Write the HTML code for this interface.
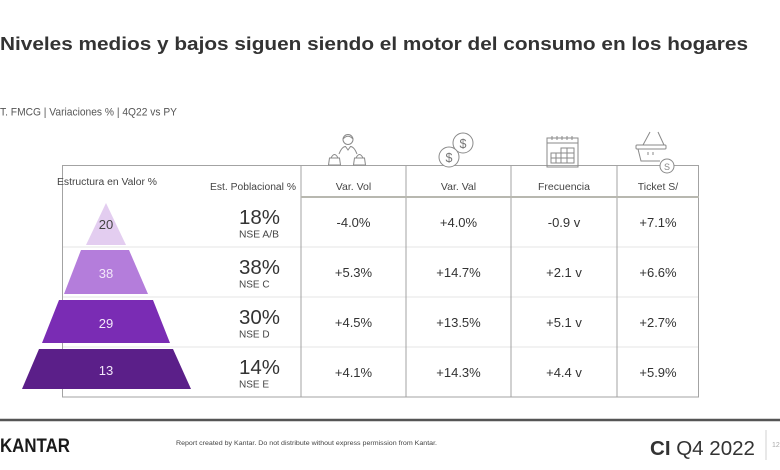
<!DOCTYPE html>
<html>
<head>
<meta charset="utf-8">
<style>
html,body{margin:0;padding:0;background:#fff;}
svg{display:block;}
text{font-family:"Liberation Sans",Arial,sans-serif;}
</style>
</head>
<body>
<svg width="780" height="470" viewBox="0 0 780 470" xmlns="http://www.w3.org/2000/svg">
  <rect x="0" y="0" width="780" height="470" fill="#ffffff"/>

  <!-- Title -->
  <text x="0" y="50" font-size="18.5" font-weight="bold" fill="#333" textLength="748" lengthAdjust="spacingAndGlyphs">Niveles medios y bajos siguen siendo el motor del consumo en los hogares</text>
  <text x="0" y="115.5" font-size="11" fill="#555" textLength="177" lengthAdjust="spacingAndGlyphs">T. FMCG | Variaciones % | 4Q22 vs PY</text>

  <!-- Row separators (light) -->
  <g stroke="#e4e4e4" stroke-width="1">
    <line x1="62" y1="247" x2="699" y2="247"/>
    <line x1="62" y1="297" x2="699" y2="297"/>
    <line x1="62" y1="347" x2="699" y2="347"/>
  </g>

  <!-- Outer box & vertical lines -->
  <g stroke="#a3a3a3" stroke-width="1" fill="none">
    <rect x="62.5" y="165.5" width="636" height="231.5"/>
    <line x1="301" y1="165" x2="301" y2="397"/>
    <line x1="406" y1="165" x2="406" y2="397"/>
    <line x1="511" y1="165" x2="511" y2="397"/>
    <line x1="617" y1="165" x2="617" y2="397"/>
  </g>
  <!-- Header separator -->
  <line x1="301" y1="197" x2="699" y2="197" stroke="#b8b8b0" stroke-width="2"/>

  <!-- Pyramid -->
  <polygon points="106,203 86,245 126,245" fill="#e3cdf0"/>
  <polygon points="81,250 129,250 148,294 64,294" fill="#b47ddb"/>
  <polygon points="59,300 153,300 170,343 42,343" fill="#7a2cb4"/>
  <polygon points="39,349 173,349 191,389 22,389" fill="#5b1f89"/>
  <text x="106" y="229" font-size="13" fill="#444" text-anchor="middle">20</text>
  <text x="106" y="278" font-size="13" fill="#f3e8fa" text-anchor="middle">38</text>
  <text x="106" y="328" font-size="13" fill="#f3e8fa" text-anchor="middle">29</text>
  <text x="106" y="375" font-size="13" fill="#f3e8fa" text-anchor="middle">13</text>

  <!-- Left headers -->
  <text x="57" y="185" font-size="10" fill="#444" textLength="100" lengthAdjust="spacingAndGlyphs">Estructura  en Valor %</text>
  <text x="210" y="190" font-size="10" fill="#444" textLength="86" lengthAdjust="spacingAndGlyphs">Est. Poblacional %</text>

  <!-- Population % -->
  <g font-size="20" fill="#333">
    <text x="239" y="224" textLength="41" lengthAdjust="spacingAndGlyphs">18%</text>
    <text x="239" y="274" textLength="41" lengthAdjust="spacingAndGlyphs">38%</text>
    <text x="239" y="324" textLength="41" lengthAdjust="spacingAndGlyphs">30%</text>
    <text x="239" y="374" textLength="41" lengthAdjust="spacingAndGlyphs">14%</text>
  </g>
  <g font-size="10" fill="#444">
    <text x="239" y="237.5" textLength="40" lengthAdjust="spacingAndGlyphs">NSE A/B</text>
    <text x="239" y="287.5">NSE C</text>
    <text x="239" y="337.5">NSE D</text>
    <text x="239" y="387.5">NSE E</text>
  </g>

  <!-- Column headers -->
  <g font-size="10.5" fill="#444" text-anchor="middle">
    <text x="353.5" y="190">Var. Vol</text>
    <text x="458.5" y="190">Var. Val</text>
    <text x="564" y="190">Frecuencia</text>
    <text x="658" y="190">Ticket S/</text>
  </g>

  <!-- Values -->
  <g font-size="13" fill="#333" text-anchor="middle">
    <text x="353.5" y="227">-4.0%</text>
    <text x="458.5" y="227">+4.0%</text>
    <text x="564" y="227">-0.9 v</text>
    <text x="658" y="227">+7.1%</text>

    <text x="353.5" y="277">+5.3%</text>
    <text x="458.5" y="277">+14.7%</text>
    <text x="564" y="277">+2.1 v</text>
    <text x="658" y="277">+6.6%</text>

    <text x="353.5" y="327">+4.5%</text>
    <text x="458.5" y="327">+13.5%</text>
    <text x="564" y="327">+5.1 v</text>
    <text x="658" y="327">+2.7%</text>

    <text x="353.5" y="377">+4.1%</text>
    <text x="458.5" y="377">+14.3%</text>
    <text x="564" y="377">+4.4 v</text>
    <text x="658" y="377">+5.9%</text>
  </g>

  <!-- Icons -->
  <g stroke="#8a8a8a" stroke-width="1" fill="none">
    <!-- person icon -->
    <circle cx="348" cy="139.5" r="5"/>
    <path d="M343 139 Q348 133.5 353 139"/>
    <path d="M339 154 Q342 146.5 345.5 146.5 L348 150 L350.5 146.5 Q354 146.5 357 154"/>
    <path d="M331 158 Q334.5 151 338 158"/>
    <path d="M329.5 158 L339.5 158 L340.5 165 L328.5 165 Z"/>
    <path d="M356 158 Q359.5 151 363 158"/>
    <path d="M354.5 158 L364.5 158 L365.5 165 L353.5 165 Z"/>
    <!-- coins -->
    <circle cx="463" cy="143" r="10"/>
    <circle cx="449" cy="157" r="10" fill="#fff"/>
    <!-- calendar -->
    <rect x="547" y="138" width="31" height="29"/>
    <line x1="547" y1="143" x2="578" y2="143"/>
    <line x1="552" y1="136" x2="552" y2="140"/>
    <line x1="557" y1="136" x2="557" y2="140"/>
    <line x1="562" y1="136" x2="562" y2="140"/>
    <line x1="567" y1="136" x2="567" y2="140"/>
    <line x1="572" y1="136" x2="572" y2="140"/>
    <path d="M551 163 L551 153 L561 153 L561 148 L574 148 L574 163 Z"/>
    <line x1="551" y1="158" x2="574" y2="158"/>
    <line x1="556" y1="153" x2="556" y2="163"/>
    <line x1="561" y1="153" x2="561" y2="163"/>
    <line x1="567" y1="148" x2="567" y2="163"/>
    <line x1="561" y1="153" x2="574" y2="153"/>
    <!-- basket -->
    <line x1="643" y1="145" x2="650" y2="132"/>
    <line x1="658" y1="132" x2="664" y2="145"/>
    <rect x="636" y="145" width="30" height="4" rx="1"/>
    <path d="M638 149 L641 161 L660 161"/>
    <line x1="648" y1="152" x2="648" y2="155"/>
    <line x1="653" y1="152" x2="653" y2="155"/>
    <circle cx="667" cy="166" r="7" fill="#fff"/>
  </g>
  <g font-size="12.5" fill="#777" text-anchor="middle">
    <text x="463" y="148">$</text>
    <text x="449" y="162">$</text>
  </g>
  <text x="667" y="170" font-size="9" fill="#888" text-anchor="middle">S</text>

  <!-- Footer -->
  <line x1="0" y1="420" x2="780" y2="420" stroke="#555" stroke-width="2.5"/>
  <text x="0" y="452" font-size="19" font-weight="bold" fill="#1a1a1a" textLength="70" lengthAdjust="spacingAndGlyphs">KANTAR</text>
  <text x="176" y="445" font-size="6.5" fill="#444" textLength="261" lengthAdjust="spacingAndGlyphs">Report created by Kantar.  Do not distribute without express permission from Kantar.</text>
  <text x="650" y="455" font-size="20" fill="#333" textLength="105" lengthAdjust="spacingAndGlyphs"><tspan font-weight="bold">CI</tspan> Q4 2022</text>
  <line x1="766" y1="430" x2="766" y2="460" stroke="#d0d0d0" stroke-width="1"/>
  <text x="772" y="447" font-size="7" fill="#aaa">12</text>
</svg>
</body>
</html>
